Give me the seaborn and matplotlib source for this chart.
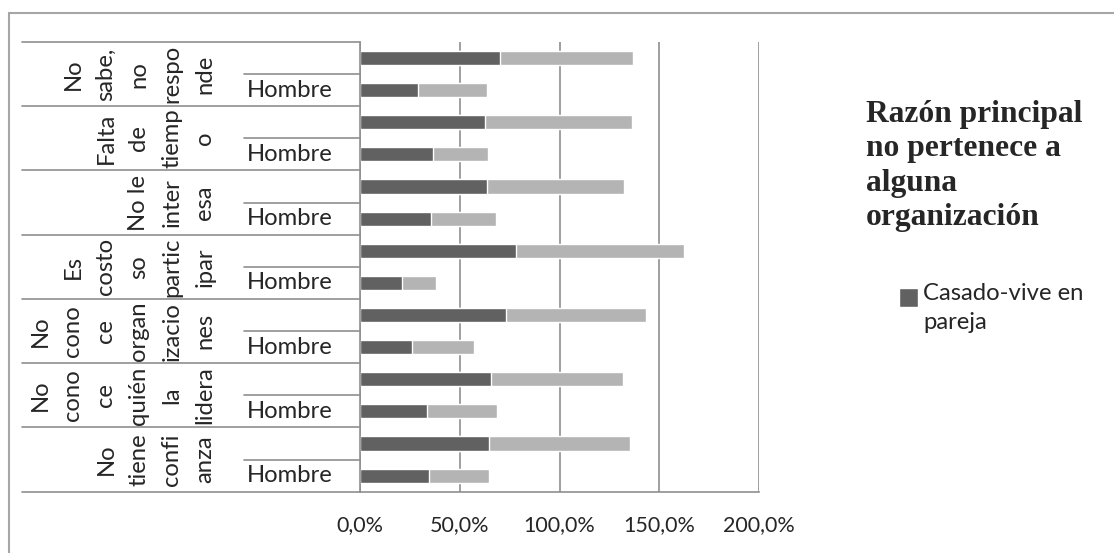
import numpy as np
import pandas as pd
import seaborn as sns
import matplotlib.pyplot as plt
from matplotlib.lines import Line2D
from matplotlib.patches import Patch, Rectangle
from matplotlib.legend_handler import HandlerPatch
from matplotlib.transforms import blended_transform_factory

# data (top to bottom as in the chart)
categorias = ["No sabe, no responde", "Falta de tiempo", "No le interesa",
              "Es costoso participar", "No conoce organizaciones",
              "No conoce quién la lidera", "No tiene confianza"]
# how Excel wrapped the rotated category labels
etiquetas = [["No", "sabe,", "no", "respo", "nde"],
             ["Falta", "de", "tiemp", "o"],
             ["No le", "inter", "esa"],
             ["Es", "costo", "so", "partic", "ipar"],
             ["No", "cono", "ce", "organ", "izacio", "nes"],
             ["No", "cono", "ce", "quién", "la", "lidera"],
             ["No", "tiene", "confi", "anza"]]
subgrupos = ["", "Hombre"]

casado_fila1 = [70.2, 62.7, 63.7, 78.2, 73.2, 65.7, 64.7]
casado_hombre = [29.2, 36.7, 35.7, 21.2, 26.2, 33.7, 34.7]
otro_fila1 = [66.4, 73.4, 68.4, 84.0, 70.0, 66.0, 70.5]
otro_hombre = [34.5, 27.3, 32.5, 17.0, 31.0, 35.0, 30.0]

x_ticks = [0, 50, 100, 150, 200]

# long table, one row per bar
rows = []
for i, cat in enumerate(categorias):
    rows.append({"fila": f"{cat}|1", "casado": casado_fila1[i], "otro": otro_fila1[i]})
    rows.append({"fila": f"{cat}|2", "casado": casado_hombre[i], "otro": otro_hombre[i]})
df = pd.DataFrame(rows)
df["total"] = df["casado"] + df["otro"]

sns.set_style("white")
plt.rcParams["font.family"] = ["Lato", "DejaVu Sans"]

W, H = 1114, 553
fig = plt.figure(figsize=(W / 100, H / 100), dpi=100)
ax = fig.add_axes([359.7 / W, 1 - 491.7 / H, 399.6 / W, 449.7 / H])

oscuro = "#616161"
claro = "#b4b4b4"
linea = "#8f8f8f"
fs = 17.2

sns.barplot(data=df, x="total", y="fila", orient="h", color=claro,
            width=0.44, saturation=1, ax=ax)
sns.barplot(data=df, x="casado", y="fila", orient="h", color=oscuro,
            width=0.44, saturation=1, ax=ax)

ax.set_xlim(0, 200)
ax.set_ylim(len(df) - 0.5, -0.5)
ax.set_xticks(x_ticks)
ax.set_xticklabels([f"{v:.1f}%".replace(".", ",") for v in x_ticks], fontsize=15.5)
ax.set_yticks([])
ax.set_xlabel("")
ax.set_ylabel("")
ax.tick_params(axis="x", direction="out", length=7, width=1.2, color=linea, pad=10)
ax.xaxis.grid(True, color=linea, lw=1.2)
ax.set_axisbelow(True)
for s in ["top", "right"]:
    ax.spines[s].set_visible(False)
for s in ["left", "bottom"]:
    ax.spines[s].set_color(linea)
    ax.spines[s].set_linewidth(1.2)

# label table on the left
trans = blended_transform_factory(ax.transAxes, ax.transData)
x_tabla = (22 - 359.7) / 399.6
x_sub = (244 - 359.7) / 399.6
for k in range(len(categorias) + 1):
    ax.plot([x_tabla, 0], [-0.5 + 2 * k] * 2, color=linea, lw=1.2,
            transform=trans, clip_on=False)
for k in range(len(categorias)):
    ax.plot([x_sub, 0], [0.5 + 2 * k] * 2, color=linea, lw=1.2,
            transform=trans, clip_on=False)
    ax.text((247 - 359.7) / 399.6, 2 * k + 1, subgrupos[1], transform=trans,
            ha="left", va="center", fontsize=fs)
    partes = etiquetas[k]
    n = len(partes)
    for j, p in enumerate(partes):
        xc = 205 - 33 * (n - 1 - j)
        ax.text((xc - 359.7) / 399.6, 2 * k + 0.5, p, transform=trans,
                rotation=90, ha="center", va="center", fontsize=fs)

# title
titulo = ["Razón principal", "no pertenece a", "alguna", "organización"]
for j, t in enumerate(titulo):
    fig.text(866 / W, 1 - (122 + 34.5 * j) / H, t, ha="left", va="baseline",
             fontsize=22.7, fontweight="bold", family="Liberation Serif")


# legend (only first series is visible in the original)
def cuadro_arriba(legend, orig_handle, xdescent, ydescent, width, height, fontsize):
    lado = width
    return Rectangle((-xdescent, -ydescent + height - lado - 1), lado, lado)


leg = fig.legend(handles=[Patch(facecolor=oscuro)], labels=["Casado-vive en\npareja"],
                 loc="upper left", bbox_to_anchor=(899 / W, 1 - 283 / H),
                 frameon=False, borderpad=0, borderaxespad=0, fontsize=fs,
                 handlelength=0.78, handleheight=2.45, handletextpad=0.22,
                 handler_map={Patch: HandlerPatch(patch_func=cuadro_arriba)})
leg.get_texts()[0].set_linespacing(1.45)

# outer chart frame
fig.add_artist(Line2D([9 / W, 9 / W], [0, 1 - 13 / H], color="#a6a6a6", lw=1.5))
fig.add_artist(Line2D([9 / W, 1], [1 - 13 / H, 1 - 13 / H], color="#a6a6a6", lw=1.5))

fig.savefig("out.png", dpi=100)
